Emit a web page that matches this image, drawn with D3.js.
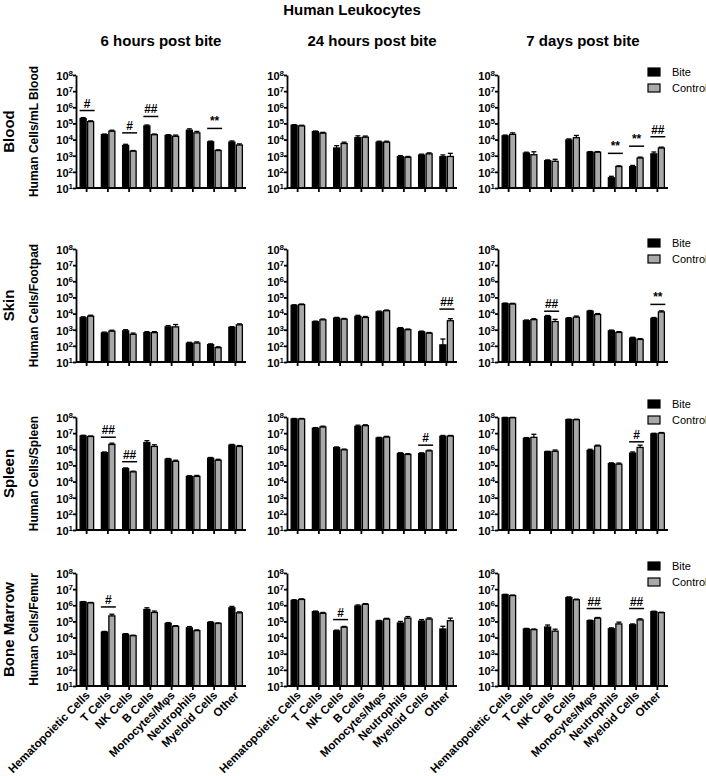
<!DOCTYPE html>
<html><head><meta charset="utf-8">
<script src="https://cdn.jsdelivr.net/npm/d3@7"></script>
<style>body{margin:0;background:#fff} text{font-family:"Liberation Sans",Arial,sans-serif}</style>
</head><body>
<script>
const categories = ["Hematopoietic Cells","T Cells","NK Cells","B Cells","Monocytes/M\u03c6s","Neutrophils","Myeloid Cells","Other"];
const timepoints = ["6 hours post bite","24 hours post bite","7 days post bite"];
const tissues = ["Blood","Skin","Spleen","Bone Marrow"];
const yTitles = ["Human Cells/mL Blood","Human Cells/Footpad","Human Cells/Spleen","Human Cells/Femur"];
const yTickExponents = [1,2,3,4,5,6,7,8];
const seriesNames = ["Bite","Control"];

// Blood
const blood6hBite = [2.0e5, 2.0e4, 4.3e3, 7.0e4, 1.8e4, 3.8e4, 7.2e3, 7.0e3];
const blood6hCtrl = [1.3e5, 3.3e4, 1.9e3, 2.0e4, 1.6e4, 2.6e4, 2.1e3, 4.6e3];
const blood6hBiteErr = [3e4, 2e3, 8e2, 1e4, 2e3, 8e3, 8e2, 1.2e3];
const blood6hCtrlErr = [1.5e4, 5e3, 2e2, 2e3, 3e3, 6e3, 2e2, 8e2];
const blood24hBite = [7.6e4, 3.1e4, 3.0e3, 1.3e4, 6.9e3, 870, 1.1e3, 870];
const blood24hCtrl = [7.0e4, 2.5e4, 5.7e3, 1.4e4, 6.9e3, 800, 1.3e3, 900];
const blood24hBiteErr = [8e3, 3e3, 1.2e3, 4e3, 1e3, 150, 150, 250];
const blood24hCtrlErr = [7e3, 3e3, 1.2e3, 2.5e3, 1e3, 100, 200, 500];
const blood7dBite = [1.7e4, 1.45e3, 490, 9.5e3, 1.65e3, 43, 210, 1.3e3];
const blood7dCtrl = [2.1e4, 1.15e3, 450, 1.3e4, 1.65e3, 215, 720, 3.0e3];
const blood7dBiteErr = [2e3, 200, 60, 1.5e3, 150, 10, 40, 400];
const blood7dCtrlErr = [5e3, 600, 150, 5e3, 150, 20, 100, 400];

// Skin
const skin6hBite = [5.5e3, 630, 850, 660, 1.5e3, 145, 118, 1.4e3];
const skin6hCtrl = [6.9e3, 810, 520, 660, 1.5e3, 150, 77, 2.0e3];
const skin6hBiteErr = [800, 80, 150, 100, 300, 20, 15, 150];
const skin6hCtrlErr = [1e3, 120, 100, 100, 600, 25, 10, 300];
const skin24hBite = [3.2e4, 3.1e3, 5.2e3, 6.6e3, 1.27e4, 1.2e3, 740, 115];
const skin24hCtrl = [3.6e4, 4.1e3, 4.5e3, 5.7e3, 1.5e4, 1.0e3, 610, 3.6e3];
const skin24hBiteErr = [3e3, 300, 600, 1.2e3, 1.5e3, 150, 80, 150];
const skin24hCtrlErr = [3e3, 500, 500, 900, 1.5e3, 100, 60, 1.2e3];
const skin7dBite = [4.1e4, 3.6e3, 6.6e3, 5.0e3, 1.4e4, 850, 300, 5.0e3];
const skin7dCtrl = [3.9e4, 4.2e3, 3.2e3, 6.0e3, 8.8e3, 680, 250, 1.27e4];
const skin7dBiteErr = [4e3, 400, 1e3, 600, 1.5e3, 100, 40, 700];
const skin7dCtrlErr = [4e3, 600, 1.2e3, 1e3, 1.2e3, 80, 30, 2e3];

// Spleen
const spleen6hBite = [6.8e6, 6.2e5, 6.4e4, 2.6e6, 2.4e5, 2.1e4, 2.8e5, 1.8e6];
const spleen6hCtrl = [6.2e6, 2.0e6, 4.0e4, 1.5e6, 1.8e5, 2.1e4, 2.1e5, 1.5e6];
const spleen6hBiteErr = [6e5, 6e4, 6e3, 8e5, 3e4, 2e3, 3e4, 2e5];
const spleen6hCtrlErr = [5e5, 4e5, 4e3, 4e5, 3e4, 3e3, 3e4, 2e5];
const spleen24hBite = [7.5e7, 2.0e7, 1.25e6, 2.6e7, 5.0e6, 5.5e5, 5.5e5, 6.3e6];
const spleen24hCtrl = [7.5e7, 2.4e7, 9.3e5, 2.9e7, 5.7e6, 4.8e5, 8.0e5, 6.6e6];
const spleen24hBiteErr = [6e6, 2e6, 1.5e5, 5e6, 5e5, 6e4, 5e4, 9e5];
const spleen24hCtrlErr = [6e6, 3e6, 1e5, 4e6, 6e5, 5e4, 8e4, 6e5];
const spleen7dBite = [9.0e7, 4.8e6, 7.0e5, 6.8e7, 8.5e5, 1.3e5, 5.8e5, 9.0e6];
const spleen7dCtrl = [9.0e7, 5.5e6, 7.5e5, 6.8e7, 1.6e6, 1.2e5, 1.3e6, 1.0e7];
const spleen7dBiteErr = [5e6, 5e5, 5e4, 5e6, 1.5e5, 1.5e4, 1e5, 8e5];
const spleen7dCtrlErr = [5e6, 3e6, 1.5e5, 5e6, 2e5, 2e4, 5e5, 9e5];

// Bone marrow
const bm6hBite = [1.6e6, 2.2e4, 1.6e4, 5.5e5, 7.5e4, 4.0e4, 8.7e4, 7.0e5];
const bm6hCtrl = [1.4e6, 2.2e5, 1.3e4, 3.6e5, 5.0e4, 2.7e4, 7.5e4, 3.4e5];
const bm6hBiteErr = [1e5, 2e3, 1.5e3, 1.5e5, 1e4, 8e3, 8e3, 1.5e5];
const bm6hCtrlErr = [1e5, 6e4, 1e3, 8e4, 5e3, 3e3, 6e3, 5e4];
const bm24hBite = [2.0e6, 4.0e5, 2.6e4, 9.0e5, 1.05e5, 8.0e4, 1.05e5, 3.4e4];
const bm24hCtrl = [2.3e6, 3.2e5, 4.4e4, 1.15e6, 1.4e5, 1.6e5, 1.4e5, 1.1e5];
const bm24hBiteErr = [2e5, 4e4, 3e3, 1.5e5, 1e4, 2e4, 2.5e4, 1.6e4];
const bm24hCtrlErr = [2e5, 4e4, 5e3, 1.2e5, 1.5e4, 4e4, 2.5e4, 5e4];
const bm7dBite = [4.5e6, 3.4e4, 4.5e4, 3.0e6, 1.1e5, 3.5e4, 6.2e4, 4.0e5];
const bm7dCtrl = [4.0e6, 3.1e4, 2.5e4, 2.2e6, 1.6e5, 7.0e4, 1.25e5, 3.5e5];
const bm7dBiteErr = [3e5, 3e3, 1.5e4, 3e5, 1e4, 5e3, 8e3, 3e4];
const bm7dCtrlErr = [3e5, 3e3, 8e3, 2e5, 1.5e4, 2e4, 2e4, 2e4];

// Significance markers: [tissue row, timepoint col, category index, label, line level]
const sigMarks = [
  [0,0,0,"#",6.3e5],[0,0,2,"#",2.6e4],[0,0,3,"##",2.7e5],[0,0,6,"**",4.9e4],
  [0,2,5,"**",1.4e3],[0,2,6,"**",3.9e3],[0,2,7,"##",1.5e4],
  [1,1,7,"##",1.9e4],
  [1,2,2,"##",1.4e4],[1,2,7,"**",3.7e4],
  [2,0,1,"##",5.6e6],[2,0,2,"##",1.7e5],
  [2,1,6,"#",1.8e6],
  [2,2,6,"#",2.9e6],
  [3,0,1,"#",7.9e5],
  [3,1,2,"#",1.3e5],
  [3,2,4,"##",6.3e5],[3,2,6,"##",6.3e5]
];

const panels = [
  [[blood6hBite,blood6hCtrl,blood6hBiteErr,blood6hCtrlErr],[blood24hBite,blood24hCtrl,blood24hBiteErr,blood24hCtrlErr],[blood7dBite,blood7dCtrl,blood7dBiteErr,blood7dCtrlErr]],
  [[skin6hBite,skin6hCtrl,skin6hBiteErr,skin6hCtrlErr],[skin24hBite,skin24hCtrl,skin24hBiteErr,skin24hCtrlErr],[skin7dBite,skin7dCtrl,skin7dBiteErr,skin7dCtrlErr]],
  [[spleen6hBite,spleen6hCtrl,spleen6hBiteErr,spleen6hCtrlErr],[spleen24hBite,spleen24hCtrl,spleen24hBiteErr,spleen24hCtrlErr],[spleen7dBite,spleen7dCtrl,spleen7dBiteErr,spleen7dCtrlErr]],
  [[bm6hBite,bm6hCtrl,bm6hBiteErr,bm6hCtrlErr],[bm24hBite,bm24hCtrl,bm24hBiteErr,bm24hCtrlErr],[bm7dBite,bm7dCtrl,bm7dBiteErr,bm7dCtrlErr]]
];

// Layout
const W = 706, H = 776;
const colX = [76, 287, 498];
const panelW = 170;
const rowTop = [75, 249, 417, 573];
const panelH = 113;
const legendY = [72, 243, 404, 566];
const fills = ["#000000", "#a9a9a9"];

const svg = d3.select("body").append("svg").attr("width", W).attr("height", H);

svg.append("text").attr("x", 352).attr("y", 15).attr("text-anchor","middle")
  .attr("font-size", 15).attr("font-weight","bold").text("Human Leukocytes");

timepoints.forEach((t,c) => {
  svg.append("text").attr("x", colX[c] + panelW/2).attr("y", 46).attr("text-anchor","middle")
    .attr("font-size", 15).attr("font-weight","bold").text(t);
});

tissues.forEach((tissue, r) => {
  const top = rowTop[r], bot = top + panelH;
  const mid = (top + bot)/2;
  svg.append("text").attr("transform", `translate(14,${mid}) rotate(-90)`).attr("text-anchor","middle")
    .attr("font-size", 15).attr("font-weight","bold").text(tissue);
  svg.append("text").attr("transform", `translate(38,${mid}) rotate(-90)`).attr("text-anchor","middle")
    .attr("font-size", 12).attr("font-weight","bold").text(yTitles[r]);

  const y = d3.scaleLog().domain([10, 1e8]).range([bot, top]);

  timepoints.forEach((tp, c) => {
    const [bite, ctrl, biteErr, ctrlErr] = panels[r][c];
    const x = d3.scaleBand().domain(categories).range([colX[c], colX[c] + panelW]).padding(0);
    const g = svg.append("g");
    const series = [bite, ctrl], errs = [biteErr, ctrlErr];
    const bw = 6;
    const offs = [-6.5, 1];
    series.forEach((vals, s) => {
      categories.forEach((cat, i) => {
        const cx = x(cat) + x.bandwidth()/2;
        const v = vals[i], e = errs[s][i];
        const bx = cx + offs[s];
        const ytop = y(v + e);
        g.append("line").attr("x1", bx + bw/2).attr("x2", bx + bw/2).attr("y1", y(v)).attr("y2", ytop)
          .attr("stroke","#000").attr("stroke-width",1.2);
        g.append("line").attr("x1", bx + 0.5).attr("x2", bx + bw - 0.5).attr("y1", ytop).attr("y2", ytop)
          .attr("stroke","#000").attr("stroke-width",1.3);
        g.append("rect").attr("x", bx).attr("width", bw).attr("y", y(v)).attr("height", bot - y(v))
          .attr("fill", fills[s]).attr("stroke","#000").attr("stroke-width",1.3);
      });
    });

    // axes
    const ya = d3.axisLeft(y).tickValues(yTickExponents.map(e => Math.pow(10,e))).tickSize(3).tickSizeOuter(0).tickFormat(() => "");
    const yg = g.append("g").attr("transform", `translate(${colX[c]},0)`).call(ya);
    yg.selectAll("path,line").attr("stroke","#000").attr("stroke-width",1.8);
    yg.selectAll(".tick").each(function(d){
      const e = Math.round(Math.log10(d));
      const t = d3.select(this).select("text").attr("x", -3).attr("dy","0.4em")
        .attr("font-size",11).attr("font-weight","bold").attr("fill","#000");
      t.append("tspan").text("10");
      t.append("tspan").attr("dy","-0.5em").attr("font-size",8).text(e);
    });
    const xa = d3.axisBottom(x).tickSize(4).tickSizeOuter(0).tickFormat(() => "");
    const xg = g.append("g").attr("transform", `translate(0,${bot})`).call(xa);
    xg.selectAll("path,line").attr("stroke","#000").attr("stroke-width",1.8);
    xg.select("path.domain").attr("d", `M${colX[c]},0H${colX[c]+panelW}`);
    if (r === tissues.length - 1) {
      categories.forEach(cat => {
        const cx = x(cat) + x.bandwidth()/2;
        g.append("text").attr("transform", `translate(${cx+4},${bot+10}) rotate(-45)`)
          .attr("text-anchor","end").attr("font-size",11.5).attr("font-weight","bold").text(cat);
      });
    }

    // significance markers
    sigMarks.filter(m => m[0] === r && m[1] === c).forEach(m => {
      const cx = x(categories[m[2]]) + x.bandwidth()/2;
      const ly = y(m[4]);
      g.append("line").attr("x1", cx - 7).attr("x2", cx + 8).attr("y1", ly).attr("y2", ly)
        .attr("stroke","#000").attr("stroke-width",1.5);
      g.append("text").attr("x", cx + 0.5).attr("y", ly - 3).attr("text-anchor","middle")
        .attr("font-size", 12).attr("font-weight","bold").text(m[3]);
    });
  });

  // legend
  seriesNames.forEach((name, s) => {
    const ly = legendY[r] + s*16;
    svg.append("rect").attr("x", 648).attr("y", ly - 4).attr("width", 12).attr("height", 8)
      .attr("fill", fills[s]).attr("stroke","#000").attr("stroke-width",1.2);
    svg.append("text").attr("x", 672).attr("y", ly).attr("dy","0.35em").attr("font-size",11).text(name);
  });
});
</script>
</body></html>
